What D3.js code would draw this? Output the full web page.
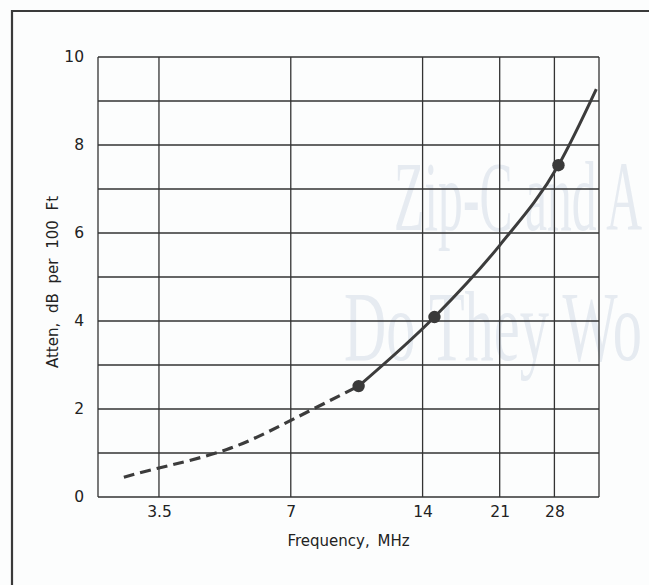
<!DOCTYPE html>
<html>
<head>
<meta charset="utf-8">
<script src="https://cdn.jsdelivr.net/npm/d3@7"></script>
<style>
  html, body { margin: 0; padding: 0; background: #fcfdfd; }
  svg { display: block; }
  .tick text { font-family: "DejaVu Sans", sans-serif; font-size: 15.5px; fill: #222; }
  .axis-title { font-family: "DejaVu Sans", sans-serif; font-size: 15px; fill: #222; }
  .grid line { stroke: #333; stroke-width: 1.3; }
</style>
</head>
<body>
<script>
// x ticks (MHz, log axis) and y ticks (dB per 100 ft)
const freqTicks = [3.5, 7, 14, 21, 28];
const attenTicks = [0, 2, 4, 6, 8, 10];
const attenGrid = [0, 1, 2, 3, 4, 5, 6, 7, 8, 9, 10];

// extrapolated (dashed) part of the curve
const dashedFreq = [2.91, 3.5, 5, 7, 10.0];
const dashedAtten = [0.45, 0.66, 1.08, 1.74, 2.52];

// measured (solid) part of the curve
const solidFreq = [10.0, 14.9, 21, 28.6, 34.9];
const solidAtten = [2.52, 4.09, 5.72, 7.54, 9.27];

// measured points
const pointFreq = [10.0, 14.9, 28.6];
const pointAtten = [2.52, 4.09, 7.54];

const W = 649, H = 585;
const PLOT = { left: 98, right: 599, top: 57, bottom: 497 };

const svg = d3.select("body").append("svg").attr("width", W).attr("height", H);

// faint show-through from the page behind
const ghost = svg.append("g")
  .attr("font-family", "'Liberation Serif', 'DejaVu Serif', serif")
  .attr("font-size", 100)
  .attr("fill", "#e6ebf1");
ghost.append("text")
  .attr("x", 394).attr("y", 230)
  .attr("textLength", 248).attr("lengthAdjust", "spacingAndGlyphs")
  .text("Zip-C and A");
ghost.append("text")
  .attr("x", 344).attr("y", 360)
  .attr("textLength", 298).attr("lengthAdjust", "spacingAndGlyphs")
  .text("Do They Wo");

// frame
svg.append("path")
  .attr("d", `M 12 ${H} L 12 11 L ${W} 11`)
  .attr("fill", "none")
  .attr("stroke", "#3a3a3a")
  .attr("stroke-width", 2.2);

const x = d3.scaleLog().domain([2.54, 35.4]).range([PLOT.left, PLOT.right]);
const y = d3.scaleLinear().domain([0, 10]).range([PLOT.bottom, PLOT.top]);

// grid
const grid = svg.append("g").attr("class", "grid");
grid.selectAll(".h")
  .data(attenGrid)
  .join("line")
  .attr("x1", PLOT.left).attr("x2", PLOT.right)
  .attr("y1", (d) => y(d)).attr("y2", (d) => y(d));
grid.selectAll(".v")
  .data([x.domain()[0], ...freqTicks, x.domain()[1]])
  .join("line")
  .attr("x1", (d) => x(d)).attr("x2", (d) => x(d))
  .attr("y1", PLOT.top).attr("y2", PLOT.bottom);

// axes (labels only, grid drawn above)
const xAxis = d3.axisBottom(x)
  .tickValues(freqTicks)
  .tickFormat((d) => String(d))
  .tickSize(0)
  .tickPadding(9);
const yAxis = d3.axisLeft(y)
  .tickValues(attenTicks)
  .tickSize(0)
  .tickPadding(14);

svg.append("g")
  .attr("transform", `translate(0, ${PLOT.bottom})`)
  .call(xAxis)
  .call((g) => g.select(".domain").remove());
svg.append("g")
  .attr("transform", `translate(${PLOT.left}, 0)`)
  .call(yAxis)
  .call((g) => g.select(".domain").remove());

svg.append("text")
  .attr("class", "axis-title")
  .attr("x", (PLOT.left + PLOT.right) / 2)
  .attr("y", 546)
  .attr("text-anchor", "middle")
  .attr("word-spacing", 3)
  .text("Frequency, MHz");

svg.append("text")
  .attr("class", "axis-title")
  .attr("transform", `translate(58, ${(PLOT.top + PLOT.bottom) / 2 + 5}) rotate(-90)`)
  .attr("text-anchor", "middle")
  .attr("word-spacing", 5)
  .text("Atten, dB per 100 Ft");

// curve
const lineOf = (curve) => d3.line()
  .x((d) => x(d[0]))
  .y((d) => y(d[1]))
  .curve(curve);

svg.append("path")
  .datum(d3.zip(dashedFreq, dashedAtten))
  .attr("d", lineOf(d3.curveNatural))
  .attr("fill", "none")
  .attr("stroke", "#3c3c3c")
  .attr("stroke-width", 3.2)
  .attr("stroke-dasharray", "11 6");

svg.append("path")
  .datum(d3.zip(solidFreq, solidAtten))
  .attr("d", lineOf(d3.curveMonotoneX))
  .attr("fill", "none")
  .attr("stroke", "#3c3c3c")
  .attr("stroke-width", 3);

svg.selectAll(".pt")
  .data(d3.zip(pointFreq, pointAtten))
  .join("circle")
  .attr("class", "pt")
  .attr("cx", (d) => x(d[0]))
  .attr("cy", (d) => y(d[1]))
  .attr("r", 6.2)
  .attr("fill", "#3a3a3a");
</script>
</body>
</html>
